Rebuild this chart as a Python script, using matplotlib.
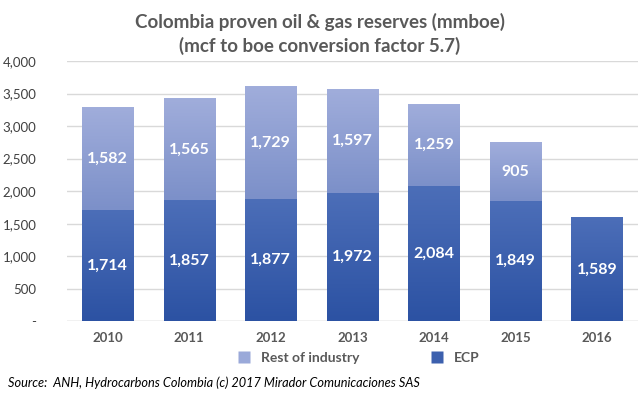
import numpy as np
import matplotlib
matplotlib.use('Agg')
import matplotlib.pyplot as plt
from matplotlib.ticker import FuncFormatter
from matplotlib.lines import Line2D

plt.rcParams['font.family'] = ['Lato', 'DejaVu Sans']

# Datos
years = ['2010', '2011', '2012', '2013', '2014', '2015', '2016']
ecp = [1714, 1857, 1877, 1972, 2084, 1849, 1589]
rest = [1582, 1565, 1729, 1597, 1259, 905, 0]

gray = '#595959'
ecp_bot, ecp_top = np.array([0x2C, 0x52, 0xA3]) / 255, np.array([0x4C, 0x6E, 0xB8]) / 255
rest_bot, rest_top = np.array([0x7C, 0x90, 0xC9]) / 255, np.array([0xA0, 0xAD, 0xDB]) / 255


def gradient_bar(ax, bar, c_bot, c_top):
    x0, y0 = bar.get_x(), bar.get_y()
    w, h = bar.get_width(), bar.get_height()
    if h <= 0:
        return
    t = np.linspace(1, 0, 64).reshape(-1, 1, 1)
    img = c_bot * (1 - t) + c_top * t
    img = np.repeat(img, 2, axis=1)
    bar.set_facecolor('none')
    ax.imshow(img, extent=[x0, x0 + w, y0, y0 + h], aspect='auto',
              interpolation='bilinear', zorder=2)


fig = plt.figure(figsize=(6.43, 3.97), dpi=100)
ax = fig.add_axes([0.104, 0.191, 0.888, 0.655])

x = np.arange(len(years))
bw = 0.63
b1 = ax.bar(x, ecp, width=bw, zorder=2)
b2 = ax.bar(x, rest, width=bw, bottom=ecp, zorder=2)

for bar in b1:
    gradient_bar(ax, bar, ecp_bot, ecp_top)
for bar in b2:
    gradient_bar(ax, bar, rest_bot, rest_top)

# etiquetas de valores
for i in range(len(years)):
    ax.text(x[i], ecp[i] / 2, f'{ecp[i]:,}', ha='center', va='center',
            color='white', fontsize=11.5, fontweight='bold', zorder=3)
    if rest[i] > 0:
        ax.text(x[i], ecp[i] + rest[i] / 2, f'{rest[i]:,}', ha='center', va='center',
                color='white', fontsize=11.5, fontweight='bold', zorder=3)

ax.set_xlim(-0.5, len(years) - 0.5)
ax.set_ylim(0, 4000)
ax.set_yticks(np.arange(0, 4001, 500))
ax.yaxis.set_major_formatter(FuncFormatter(lambda v, p: '-' if v == 0 else f'{int(v):,}'))
ax.set_xticks(x)
ax.set_xticklabels(years)
ax.grid(axis='y', color='#D9D9D9', linewidth=1, zorder=0)
ax.set_axisbelow(True)
for s in ax.spines.values():
    s.set_visible(False)
ax.axhline(0, color='#D9D9D9', linewidth=1, zorder=1)
ax.tick_params(length=0, colors=gray, labelsize=9.5)
ax.tick_params(axis='x', pad=8)
ax.tick_params(axis='y', pad=22)
for lbl in ax.get_xticklabels():
    lbl.set_fontweight('bold')
    lbl.set_color(gray)
for lbl in ax.get_yticklabels():
    lbl.set_color('#404040')

fig.text(0.497, 0.945, 'Colombia proven oil & gas reserves (mmboe)', ha='center', va='center',
         fontsize=13.5, fontweight='bold', color=gray)
fig.text(0.497, 0.885, '(mcf to boe conversion factor 5.7)', ha='center', va='center',
         fontsize=13.5, fontweight='bold', color=gray)

handles = [Line2D([], [], marker='s', linestyle='none', markersize=8,
                  markerfacecolor='#9AA9D9', markeredgecolor='none'),
           Line2D([], [], marker='s', linestyle='none', markersize=8,
                  markerfacecolor='#3C60AE', markeredgecolor='none')]
leg = fig.legend(handles, ['Rest of industry', 'ECP'], loc='center', ncol=2,
                 bbox_to_anchor=(0.552, 0.098), frameon=False, handletextpad=0.2,
                 columnspacing=4.6, prop={'weight': 'bold', 'size': 10})
for t in leg.get_texts():
    t.set_color(gray)

fig.text(0.012, 0.035, 'Source:  ANH, Hydrocarbons Colombia (c) 2017 Mirador Comunicaciones SAS',
         ha='left', va='center', fontsize=9.2, style='italic', color='black')

fig.savefig('out.png', dpi=100)
